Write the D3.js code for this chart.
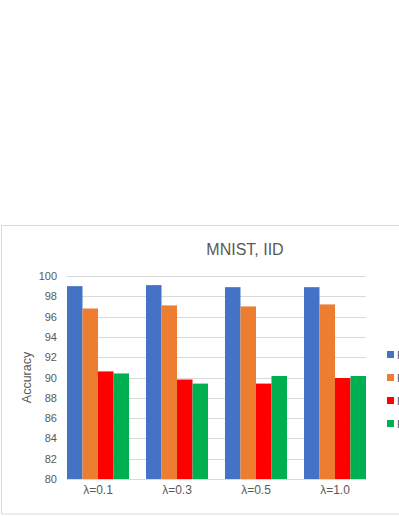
<!DOCTYPE html>
<html>
<head>
<script src="https://d3js.org/d3.v7.min.js"></script>
<style>
  body { margin: 0; background: #fff; }
  text { font-family: "Liberation Sans", Arial, sans-serif; fill: #595959; }
</style>
</head>
<body>
<script>
  // data
  const categories = ['λ=0.1', 'λ=0.3', 'λ=0.5', 'λ=1.0'];
  const seriesNames = ['FedAvg', 'FedProx', 'Ditto', 'Proposed'];
  const seriesA = [99.0, 99.1, 98.9, 98.9];
  const seriesB = [96.8, 97.1, 97.0, 97.2];
  const seriesC = [90.6, 89.8, 89.4, 89.95];
  const seriesD = [90.4, 89.4, 90.15, 90.15];
  const yTicks = [80, 82, 84, 86, 88, 90, 92, 94, 96, 98, 100];
  const colors = ['#4472c4', '#ed7d31', '#ff0000', '#00b050'];

  const allSeries = [seriesA, seriesB, seriesC, seriesD];
  const width = 399, height = 516;
  const plot = {left: 67, right: 366, top: 276, bottom: 479};

  let svg = d3.select('body').append('svg').attr('width', width).attr('height', height);

  // chart frame
  svg.append('rect').attr('x', 1.5).attr('y', 225.5).attr('width', 430).attr('height', 288.5)
     .attr('fill', '#fff').attr('stroke', '#d9d9d9').attr('stroke-width', 1);

  let y = d3.scaleLinear().domain([80, 100]).range([plot.bottom, plot.top]);
  let x0 = d3.scaleBand().domain(categories).range([plot.left, plot.right]).paddingInner(0.215).paddingOuter(0);
  let x1 = d3.scaleBand().domain(d3.range(allSeries.length)).range([0, x0.bandwidth()]);

  // gridlines
  svg.append('g').selectAll('line').data(yTicks).enter().append('line')
     .attr('x1', plot.left).attr('x2', plot.right)
     .attr('y1', d => Math.round(y(d)) + 0.5).attr('y2', d => Math.round(y(d)) + 0.5)
     .attr('stroke', '#d9d9d9').attr('stroke-width', 1);

  // y tick labels
  svg.append('g').selectAll('text').data(yTicks).enter().append('text')
     .attr('x', 57).attr('y', d => y(d) + 4)
     .attr('text-anchor', 'end').attr('font-size', 11).text(d => d);

  // bars
  let groups = svg.append('g').selectAll('g').data(categories).enter().append('g')
     .attr('transform', d => 'translate(' + x0(d) + ',0)');
  groups.selectAll('rect').data((d, i) => allSeries.map((s, k) => ({k: k, v: s[i]})))
     .enter().append('rect')
     .attr('x', d => x1(d.k)).attr('width', x1.bandwidth())
     .attr('y', d => y(d.v)).attr('height', d => y(80) - y(d.v))
     .attr('fill', d => colors[d.k]);

  // x labels
  svg.append('g').selectAll('text').data(categories).enter().append('text')
     .attr('x', d => x0(d) + x0.bandwidth() / 2).attr('y', 494)
     .attr('text-anchor', 'middle').attr('font-size', 12).text(d => d);

  // title
  svg.append('text').attr('x', 245).attr('y', 255).attr('text-anchor', 'middle')
     .attr('font-size', 16).text('MNIST, IID');

  // y axis title
  svg.append('text').attr('transform', 'translate(31,' + (plot.top + plot.bottom) / 2 + ') rotate(-90)')
     .attr('text-anchor', 'middle').attr('font-size', 12.5).text('Accuracy');

  // legend (runs past the right edge, as in the picture)
  let legend = svg.append('g').selectAll('g').data(seriesNames).enter().append('g')
     .attr('transform', (d, i) => 'translate(387,' + (351 + i * 23) + ')');
  legend.append('rect').attr('width', 7).attr('height', 7).attr('fill', (d, i) => colors[i]);
  legend.append('text').attr('x', 10).attr('y', 7.5).attr('font-size', 11).text(d => d);
</script>
</body>
</html>
